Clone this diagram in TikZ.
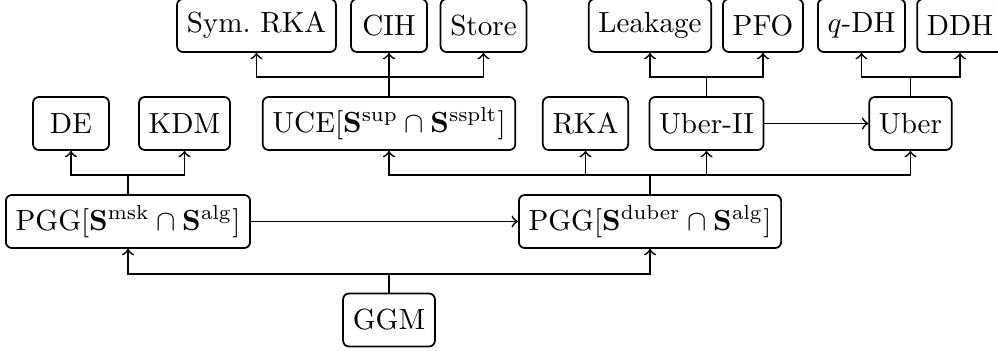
\documentclass[tikz,border=0pt]{standalone}
\begin{document}
\begin{tikzpicture}[x=0.3436pt,y=-0.3436pt,
  box/.style={draw, rounded corners=2pt, line width=0.6pt,
    minimum height=18.2pt, minimum width=26.1pt, inner xsep=3.33pt},
  link/.style={line width=0.6pt},
  arr/.style={link,->}]
\clip (0,0) rectangle (998,351);

% top row
\node[box] (symrka) at (256.5,25.5) {Sym.\ RKA};
\node[box] (cih)    at (389,25.5)   {CIH};
\node[box] (store)  at (483.5,25.5) {Store};
\node[box] (leak)   at (650,25.5)   {Leakage};
\node[box] (pfo)    at (763,25.5)   {PFO};
\node[box] (qdh)    at (861.5,25.5) {$q$-DH};
\node[box] (ddh)    at (960,25.5)   {DDH};

% middle row
\node[box] (de)     at (71,123.5)    {DE};
\node[box] (kdm)    at (184.5,123.5) {KDM};
\node[box] (uce)    at (389,123.5)   {UCE$[\mathbf{S}^{\mathrm{sup}}\cap\mathbf{S}^{\mathrm{ssplt}}]$};
\node[box] (rka)    at (585.5,123.5) {RKA};
\node[box] (uberii) at (706.5,123.5) {Uber-II};
\node[box] (uber)   at (910.5,123.5) {Uber};

% group row
\node[box] (pggl) at (128,221.5) {PGG$[\mathbf{S}^{\mathrm{msk}}\cap\mathbf{S}^{\mathrm{alg}}]$};
\node[box] (pggr) at (650,221.5) {PGG$[\mathbf{S}^{\mathrm{duber}}\cap\mathbf{S}^{\mathrm{alg}}]$};

% base
\node[box] (ggm) at (389,320) {GGM};

% junction points of the branching connectors
\coordinate (j1) at (128,175);
\coordinate (j2) at (389,274);
\coordinate (j3) at (650,175);
\coordinate (j4) at (389,77);
\coordinate (j5) at (706.5,77);
\coordinate (j6) at (910.5,77);

\draw[link] (ggm.north) -- (j2);
\draw[arr] (j2) -| (pggl.south);
\draw[arr] (j2) -| (pggr.south);

\draw[link] (pggl.north) -- (j1);
\draw[arr] (j1) -| (de.south);
\draw[arr] (j1) -| (kdm.south);

\draw[arr] (pggl.east) -- (pggr.west);

\draw[link] (pggr.north) -- (j3);
\draw[arr] (j3) -| (uce.south);
\draw[arr] (j3) -| (rka.south);
\draw[arr] (j3) -| (uberii.south);
\draw[arr] (j3) -| (uber.south);

\draw[link] (uce.north) -- (j4);
\draw[arr] (j4) -| (symrka.south);
\draw[arr] (j4) -- (cih.south);
\draw[arr] (j4) -| (store.south);

\draw[link] (uberii.north) -- (j5);
\draw[arr] (j5) -| (leak.south);
\draw[arr] (j5) -| (pfo.south);

\draw[link] (uber.north) -- (j6);
\draw[arr] (j6) -| (qdh.south);
\draw[arr] (j6) -| (ddh.south);

\draw[arr] (uberii.east) -- (uber.west);
\end{tikzpicture}
\end{document}
